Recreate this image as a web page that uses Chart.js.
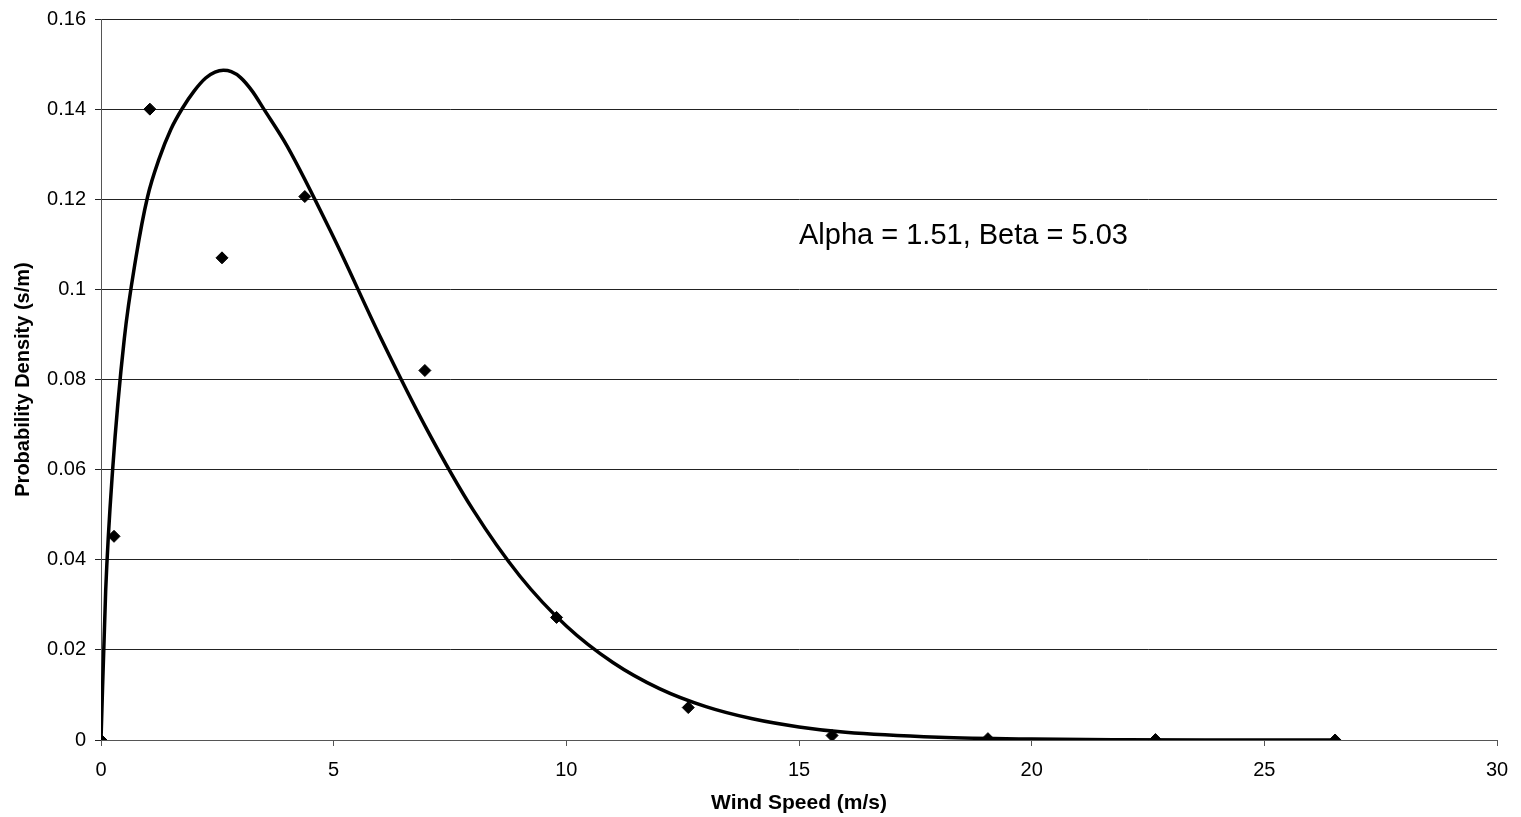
<!DOCTYPE html>
<html>
<head>
<meta charset="utf-8">
<script src="https://cdn.jsdelivr.net/npm/chart.js@4/dist/chart.umd.min.js"></script>
<style>
  html, body { margin: 0; padding: 0; background: #ffffff; }
  #wrap { width: 1521px; height: 817px; position: relative; }
</style>
</head>
<body>
<div id="wrap"><canvas id="c" width="1521" height="817"></canvas></div>
<script>
// Observed data points (wind speed m/s, probability density s/m)
const obsSpeed   = [0, 0.28, 1.05, 2.60, 4.38, 6.96, 9.79, 12.62, 15.71, 19.06, 22.66, 26.52];
const obsDensity = [0, 0.0452, 0.140, 0.107, 0.1206, 0.082, 0.0272, 0.0072, 0.0010, 0.0003, 0.0001, 0.0000];

// Fitted curve
const fitSpeed   = [0, 0.1, 0.25, 0.5, 0.75, 1, 1.25, 1.5, 1.75, 2, 2.25, 2.45, 2.63, 2.8, 3, 3.25, 3.5, 4, 5, 6, 7, 8, 9, 10, 11, 12, 13, 14, 15, 16, 18, 20, 22, 24, 26.5];
const fitDensity = [0, 0.033, 0.060, 0.089, 0.1070, 0.1205, 0.1290, 0.1355, 0.1402, 0.1440, 0.1469, 0.1482, 0.1486, 0.1483, 0.1470, 0.1440, 0.1400, 0.1318, 0.1115, 0.0895, 0.0690, 0.0510, 0.0364, 0.0253, 0.0172, 0.0114, 0.0074, 0.0047, 0.0029, 0.0017, 0.0006, 0.0002, 0.00006, 0.00002, 0];

// Tick labels
const yTickLabels = ["0", "0.02", "0.04", "0.06", "0.08", "0.1", "0.12", "0.14", "0.16"];
const xTickLabels = ["0", "5", "10", "15", "20", "25", "30"];

const annotationText = "Alpha = 1.51, Beta = 5.03";
const annotationPos = { x: 15, y: 0.110 };

const obsPoints = obsSpeed.map((x, i) => ({ x: x, y: obsDensity[i] }));
const fitPoints = fitSpeed.map((x, i) => ({ x: x, y: fitDensity[i] }));

const textPlugin = {
  id: 'annotText',
  afterDatasetsDraw(chart) {
    const ctx = chart.ctx;
    const xs = chart.scales.x, ys = chart.scales.y;
    ctx.save();
    ctx.font = '29px "Liberation Sans", Arial, sans-serif';
    ctx.fillStyle = '#000';
    ctx.textAlign = 'left';
    ctx.textBaseline = 'alphabetic';
    ctx.fillText(annotationText, xs.getPixelForValue(annotationPos.x), ys.getPixelForValue(annotationPos.y));
    ctx.restore();
  }
};

new Chart(document.getElementById('c'), {
  type: 'scatter',
  data: {
    datasets: [
      {
        label: 'Observed',
        data: obsPoints,
        showLine: false,
        pointStyle: 'rectRot',
        pointRadius: 6,
        pointBackgroundColor: '#000',
        pointBorderColor: '#000',
        pointBorderWidth: 1,
        order: 0
      },
      {
        label: 'Weibull fit',
        data: fitPoints,
        showLine: true,
        borderColor: '#000',
        borderWidth: 3.5,
        pointRadius: 0,
        cubicInterpolationMode: 'monotone',
        fill: false,
        order: 1
      }
    ]
  },
  options: {
    responsive: false,
    animation: false,
    layout: { padding: { top: 18, right: 24, bottom: 0, left: 0 } },
    plugins: {
      legend: { display: false },
      tooltip: { enabled: false }
    },
    scales: {
      x: {
        type: 'linear',
        min: 0, max: 30,
        afterFit(scale) { scale.height = 77; },
        ticks: {
          stepSize: 5,
          padding: 12,
          color: '#000',
          font: { family: '"Liberation Sans", Arial, sans-serif', size: 20 },
          callback: (v, i) => xTickLabels[i]
        },
        grid: { drawOnChartArea: false, drawTicks: true, tickLength: 6, color: '#555' },
        border: { display: true, color: '#555', width: 1 },
        title: {
          display: true,
          text: 'Wind Speed (m/s)',
          color: '#000',
          font: { family: '"Liberation Sans", Arial, sans-serif', size: 21, weight: 'bold' },
          padding: { top: 0, bottom: 1 }
        }
      },
      y: {
        type: 'linear',
        min: 0, max: 0.16,
        afterFit(scale) { scale.width = 101; },
        ticks: {
          stepSize: 0.02,
          padding: 9,
          color: '#000',
          font: { family: '"Liberation Sans", Arial, sans-serif', size: 20, lineHeight: 1 },
          callback: (v, i) => yTickLabels[i]
        },
        grid: { drawOnChartArea: true, drawTicks: true, tickLength: 6, color: '#222', lineWidth: 1 },
        border: { display: true, color: '#555', width: 1 },
        title: {
          display: true,
          text: 'Probability Density (s/m)',
          color: '#000',
          font: { family: '"Liberation Sans", Arial, sans-serif', size: 20, weight: 'bold' },
          padding: { top: 11, bottom: 0 }
        }
      }
    }
  },
  plugins: [textPlugin]
});
</script>
</body>
</html>
